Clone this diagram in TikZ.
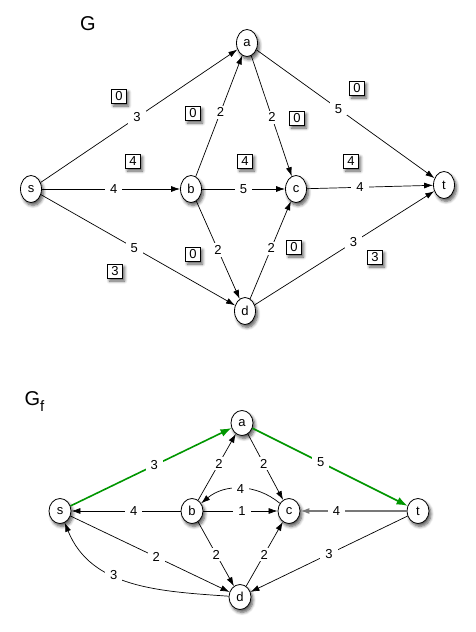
\documentclass[tikz,border=0pt]{standalone}
\usepackage{fontspec}
\setmainfont{Liberation Sans}
\usetikzlibrary{arrows.meta,shapes.geometric,shadows.blur}
\begin{document}
\begin{tikzpicture}[x=1pt,y=-1pt,
  shd/.style={blur shadow={shadow xshift=2pt,shadow yshift=-3pt,shadow blur steps=6,shadow blur radius=3pt,shadow opacity=65}},
  vtx/.style={ellipse,draw,fill=white,line width=0.8pt,minimum width=21pt,minimum height=27pt,inner sep=0pt,font=\fontsize{13}{13}\selectfont,shd},
  vtxb/.style={vtx,minimum width=22pt,minimum height=25pt},
  flowbox/.style={rectangle,draw,fill=white,line width=0.8pt,minimum width=15pt,minimum height=14pt,inner sep=0pt,font=\fontsize{13}{13}\selectfont,shd},
  lbl/.style={fill=white,inner xsep=5pt,inner ysep=2pt,font=\fontsize{13}{13}\selectfont},
  arr/.style={line width=0.7pt,-{Latex[length=9pt,width=6pt]}},
  grn/.style={draw={rgb,255:red,0;green,150;blue,0},line width=1.6pt,-{Latex[length=11pt,width=8pt]}},
  gry/.style={draw={rgb,255:red,120;green,120;blue,120},line width=1.3pt,-{Latex[length=9pt,width=6pt]}},
  title/.style={font=\fontsize{20}{20}\selectfont}
]
\useasboundingbox (0,0) rectangle (476,632);

% ---------- G ----------
\node[title] (G) at (88,24) {G};
\node[vtx] (a) at (247,43) {a};
\node[vtx] (s) at (31,189) {s};
\node[vtx] (b) at (191,189) {b};
\node[vtx] (c) at (296,189) {c};
\node[vtx] (t) at (444,185) {t};
\node[vtx] (d) at (245,311) {d};

\draw[arr] (s) -- node[lbl,pos=0.49]{3} (a);
\draw[arr] (s) -- node[lbl,pos=0.52]{4} (b);
\draw[arr] (s) -- node[lbl,pos=0.48]{5} (d);
\draw[arr] (b) -- node[lbl,pos=0.53]{2} (a);
\draw[arr] (b) -- node[lbl,pos=0.5]{5} (c);
\draw[arr] (b) -- node[lbl,pos=0.5]{2} (d);
\draw[arr] (a) -- node[lbl,pos=0.51]{2} (c);
\draw[arr] (a) -- node[lbl,pos=0.46]{5} (t);
\draw[arr] (c) -- node[lbl,pos=0.42]{4} (t);
\draw[arr] (d) -- node[lbl,pos=0.52]{2} (c);
\draw[arr] (d) -- node[lbl,pos=0.55]{3} (t);

\node[flowbox] (f1) at (119,96) {0};
\node[flowbox] (f2) at (193,113) {0};
\node[flowbox] (f3) at (297,118) {0};
\node[flowbox] (f4) at (357,88) {0};
\node[flowbox] (f5) at (133,161) {4};
\node[flowbox] (f6) at (245,161) {4};
\node[flowbox] (f7) at (351,161) {4};
\node[flowbox] (f8) at (115,271) {3};
\node[flowbox] (f9) at (193,254) {0};
\node[flowbox] (f10) at (294,247) {0};
\node[flowbox] (f11) at (375,257) {3};

% ---------- G_f ----------
\node[title,anchor=west] (Gf) at (21,402) {G\raisebox{-6pt}{\fontsize{15}{15}\selectfont f}};
\node[vtxb] (a2) at (242,423) {a};
\node[vtxb] (s2) at (60,511) {s};
\node[vtxb] (b2) at (192,511) {b};
\node[vtxb] (c2) at (289,511) {c};
\node[vtxb] (t2) at (418,511) {t};
\node[vtxb] (d2) at (240,597) {d};

\draw[grn] (s2) -- node[lbl,pos=0.52]{3} (a2);
\draw[grn] (a2) -- node[lbl,pos=0.44]{5} (t2);
\draw[arr] (b2) -- node[lbl,pos=0.55]{2} (a2);
\draw[arr] (a2) -- node[lbl,pos=0.45]{2} (c2);
\draw[arr] (c2) to[bend right=40] node[lbl,pos=0.5]{4} (b2);
\draw[arr] (b2) -- node[lbl,pos=0.43]{4} (s2);
\draw[arr] (b2) -- node[lbl,pos=0.52]{1} (c2);
\draw[gry] (t2) -- node[lbl,pos=0.66,text=black]{4} (c2);
\draw[arr] (s2) -- node[lbl,pos=0.54]{2} (d2);
\draw[arr] (b2) -- node[lbl,pos=0.51]{2} (d2);
\draw[arr] (d2) -- node[lbl,pos=0.49]{2} (c2);
\draw[arr] (t2) -- node[lbl,pos=0.5]{3} (d2);
\draw[arr] (d2) to[out=176,in=-68] node[lbl,pos=0.6]{3} (s2);
\end{tikzpicture}
\end{document}
